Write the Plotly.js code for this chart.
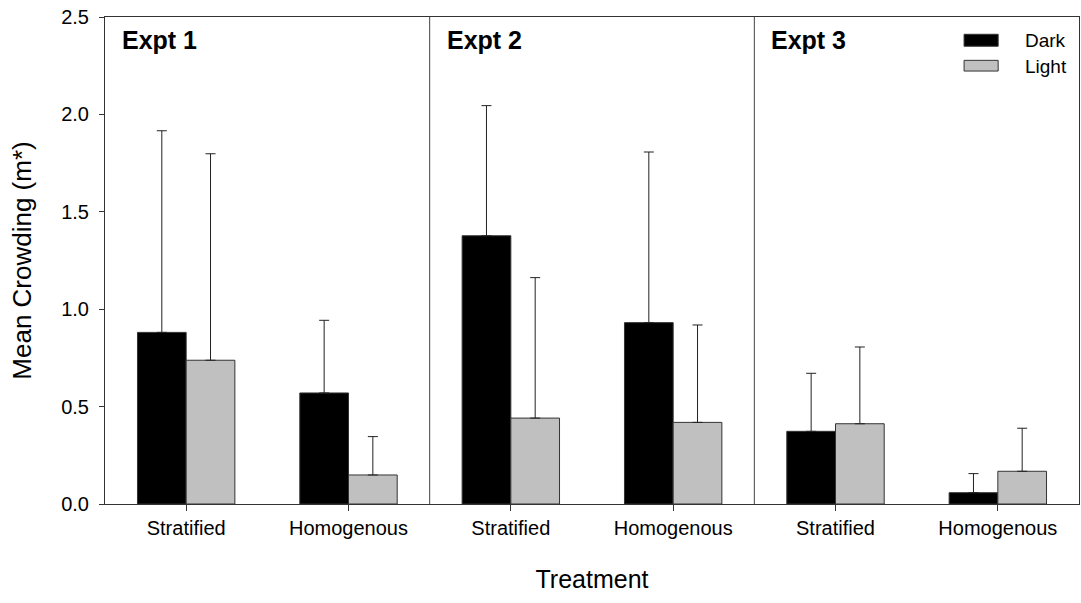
<!DOCTYPE html>
<html>
<head>
<meta charset="utf-8">
<script src="https://cdn.plot.ly/plotly-3.0.1.min.js"></script>
<style>html,body{margin:0;padding:0;background:#fff;}#chart{width:1081px;height:603px;}</style>
</head>
<body>
<div id="chart"></div>
<script>
const experiments = ['Expt 1', 'Expt 2', 'Expt 3'];
const treatments = ['Stratified', 'Homogenous'];
const seriesNames = ['Dark', 'Light'];
// order: Expt1 Strat, Expt1 Homog, Expt2 Strat, Expt2 Homog, Expt3 Strat, Expt3 Homog
const darkMean = [0.881, 0.570, 1.377, 0.931, 0.373, 0.058];
const darkErr  = [1.035, 0.373, 0.668, 0.876, 0.298, 0.098];
const lightMean = [0.738, 0.149, 0.441, 0.419, 0.412, 0.168];
const lightErr  = [1.060, 0.197, 0.721, 0.500, 0.394, 0.221];
const yTicks = [0, 0.5, 1.0, 1.5, 2.0, 2.5];

const FONT = 'Liberation Sans, Arial, Helvetica, sans-serif';
const xPos = [];
const xLabels = [];
experiments.forEach((e, i) => treatments.forEach((t, j) => { xPos.push(i * treatments.length + j); xLabels.push(t); }));

function bar(name, y, err, color) {
  return {
    type: 'bar', name: name, x: xPos, y: y,
    marker: {color: color, line: {color: '#333', width: 1}},
    error_y: {type: 'data', symmetric: false, array: err, arrayminus: err.map(() => 0),
              color: '#222', thickness: 1, width: 5},
    showlegend: false, hoverinfo: 'skip'
  };
}
const data = [bar(seriesNames[0], darkMean, darkErr, '#000000'),
              bar(seriesNames[1], lightMean, lightErr, '#c0c0c0')];

const shapes = [];
const annotations = [];
// panel dividers
for (let i = 1; i < experiments.length; i++) {
  const xd = i * treatments.length - 0.5;
  shapes.push({type: 'line', xref: 'x', yref: 'paper', x0: xd, x1: xd, y0: 0, y1: 1,
               line: {color: '#444', width: 1}});
}
experiments.forEach((e, i) => {
  annotations.push({text: '<b>' + e + '</b>', xref: 'x', yref: 'y', x: i * treatments.length - 0.5,
    y: 2.38, xanchor: 'left', yanchor: 'middle', xshift: 15, showarrow: false,
    font: {family: FONT, size: 25, color: '#000'}});
});
// legend (drawn manually)
const legColors = ['#000000', '#c0c0c0'];
const legY = [[0.940, 0.9645], [0.889, 0.911]];
const legTextY = [0.952, 0.899];
seriesNames.forEach((n, i) => {
  shapes.push({type: 'rect', xref: 'paper', yref: 'paper', x0: 0.882, x1: 0.917,
    y0: legY[i][0], y1: legY[i][1], fillcolor: legColors[i], line: {color: '#333', width: 1}});
  annotations.push({text: n, xref: 'paper', yref: 'paper', x: 0.942, y: legTextY[i],
    xanchor: 'left', yanchor: 'middle', showarrow: false,
    font: {family: FONT, size: 19, color: '#000'}});
});

const layout = {
  width: 1081, height: 603,
  margin: {l: 105, r: 2, t: 17, b: 99},
  paper_bgcolor: '#fff', plot_bgcolor: '#fff',
  font: {family: FONT, color: '#000'},
  barmode: 'group', bargap: 0.4, bargroupgap: 0,
  xaxis: {
    range: [-0.5, xPos.length - 0.5], tickvals: xPos, ticktext: xLabels,
    ticks: 'outside', ticklen: 6, tickcolor: '#333', showline: true, mirror: true,
    linecolor: '#333', linewidth: 1, showgrid: false, zeroline: false,
    tickfont: {family: FONT, size: 20, color: '#000'},
    title: {text: 'Treatment', font: {family: FONT, size: 25, color: '#000'}, standoff: 32}
  },
  yaxis: {
    range: [0, 2.5], tickvals: yTicks, tickformat: '.1f',
    ticks: 'outside', ticklen: 5, tickcolor: '#333', showline: true, mirror: true,
    linecolor: '#333', linewidth: 1, showgrid: false, zeroline: false,
    ticklabelstandoff: 6,
    tickfont: {family: FONT, size: 20, color: '#000'},
    title: {text: 'Mean Crowding (m*)', font: {family: FONT, size: 26, color: '#000'}, standoff: 22}
  },
  shapes: shapes, annotations: annotations
};
Plotly.newPlot('chart', data, layout, {displayModeBar: false, staticPlot: true});
</script>
</body>
</html>
